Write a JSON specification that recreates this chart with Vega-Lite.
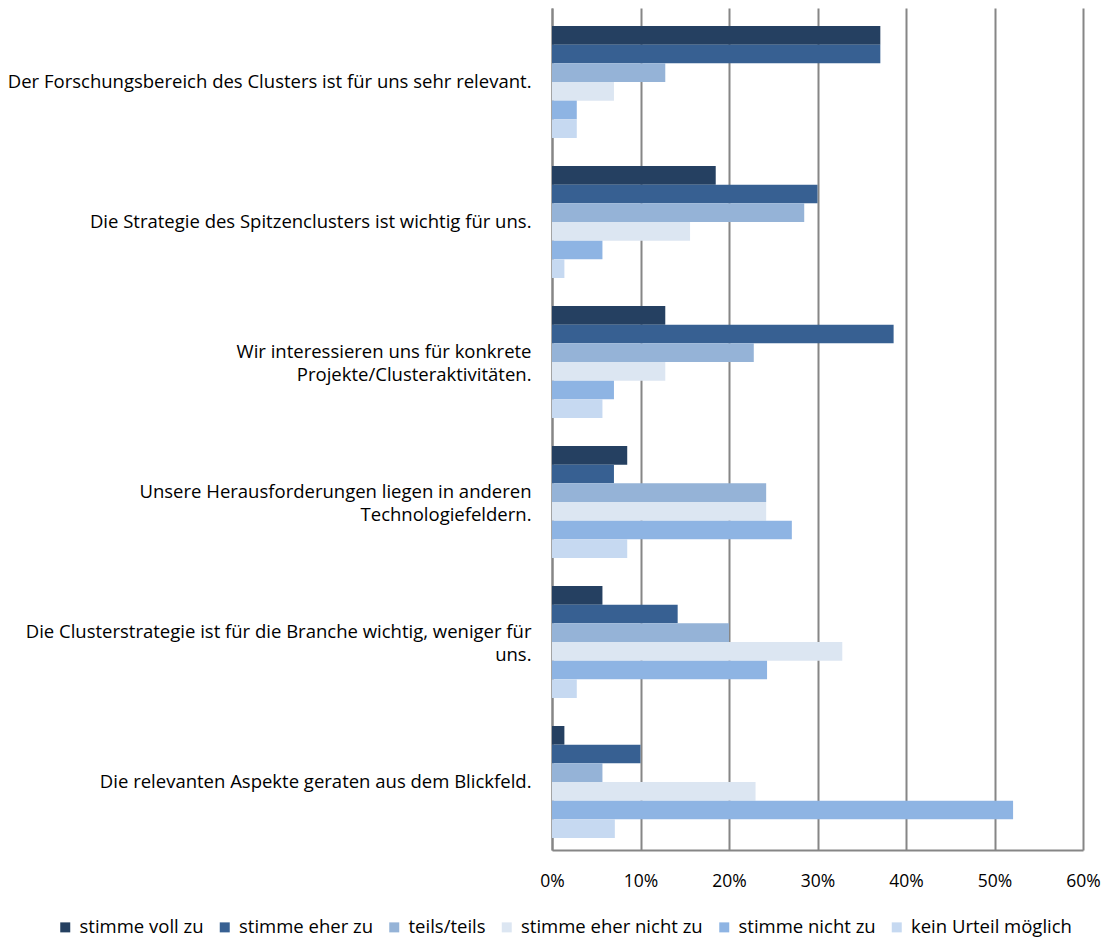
{
  "$schema": "https://vega.github.io/schema/vega-lite/v6.json",
  "width": 531,
  "height": 842,
  "autosize": {"type": "none"},
  "padding": {"left": 552, "top": 8, "right": 25, "bottom": 91},
  "background": "white",
  "data": {
    "values": [
      {"q": "Der Forschungsbereich des Clusters ist für uns sehr relevant.", "r": "stimme voll zu", "v": 0.371},
      {"q": "Der Forschungsbereich des Clusters ist für uns sehr relevant.", "r": "stimme eher zu", "v": 0.371},
      {"q": "Der Forschungsbereich des Clusters ist für uns sehr relevant.", "r": "teils/teils", "v": 0.128},
      {"q": "Der Forschungsbereich des Clusters ist für uns sehr relevant.", "r": "stimme eher nicht zu", "v": 0.070},
      {"q": "Der Forschungsbereich des Clusters ist für uns sehr relevant.", "r": "stimme nicht zu", "v": 0.028},
      {"q": "Der Forschungsbereich des Clusters ist für uns sehr relevant.", "r": "kein Urteil möglich", "v": 0.028},
      {"q": "Die Strategie des Spitzenclusters ist wichtig für uns.", "r": "stimme voll zu", "v": 0.185},
      {"q": "Die Strategie des Spitzenclusters ist wichtig für uns.", "r": "stimme eher zu", "v": 0.300},
      {"q": "Die Strategie des Spitzenclusters ist wichtig für uns.", "r": "teils/teils", "v": 0.285},
      {"q": "Die Strategie des Spitzenclusters ist wichtig für uns.", "r": "stimme eher nicht zu", "v": 0.156},
      {"q": "Die Strategie des Spitzenclusters ist wichtig für uns.", "r": "stimme nicht zu", "v": 0.057},
      {"q": "Die Strategie des Spitzenclusters ist wichtig für uns.", "r": "kein Urteil möglich", "v": 0.014},
      {"q": "Wir interessieren uns für konkrete|Projekte/Clusteraktivitäten.", "r": "stimme voll zu", "v": 0.128},
      {"q": "Wir interessieren uns für konkrete|Projekte/Clusteraktivitäten.", "r": "stimme eher zu", "v": 0.386},
      {"q": "Wir interessieren uns für konkrete|Projekte/Clusteraktivitäten.", "r": "teils/teils", "v": 0.228},
      {"q": "Wir interessieren uns für konkrete|Projekte/Clusteraktivitäten.", "r": "stimme eher nicht zu", "v": 0.128},
      {"q": "Wir interessieren uns für konkrete|Projekte/Clusteraktivitäten.", "r": "stimme nicht zu", "v": 0.070},
      {"q": "Wir interessieren uns für konkrete|Projekte/Clusteraktivitäten.", "r": "kein Urteil möglich", "v": 0.057},
      {"q": "Unsere Herausforderungen liegen in anderen|Technologiefeldern.", "r": "stimme voll zu", "v": 0.085},
      {"q": "Unsere Herausforderungen liegen in anderen|Technologiefeldern.", "r": "stimme eher zu", "v": 0.070},
      {"q": "Unsere Herausforderungen liegen in anderen|Technologiefeldern.", "r": "teils/teils", "v": 0.242},
      {"q": "Unsere Herausforderungen liegen in anderen|Technologiefeldern.", "r": "stimme eher nicht zu", "v": 0.242},
      {"q": "Unsere Herausforderungen liegen in anderen|Technologiefeldern.", "r": "stimme nicht zu", "v": 0.271},
      {"q": "Unsere Herausforderungen liegen in anderen|Technologiefeldern.", "r": "kein Urteil möglich", "v": 0.085},
      {"q": "Die Clusterstrategie ist für die Branche wichtig, weniger für|uns.", "r": "stimme voll zu", "v": 0.057},
      {"q": "Die Clusterstrategie ist für die Branche wichtig, weniger für|uns.", "r": "stimme eher zu", "v": 0.142},
      {"q": "Die Clusterstrategie ist für die Branche wichtig, weniger für|uns.", "r": "teils/teils", "v": 0.200},
      {"q": "Die Clusterstrategie ist für die Branche wichtig, weniger für|uns.", "r": "stimme eher nicht zu", "v": 0.328},
      {"q": "Die Clusterstrategie ist für die Branche wichtig, weniger für|uns.", "r": "stimme nicht zu", "v": 0.243},
      {"q": "Die Clusterstrategie ist für die Branche wichtig, weniger für|uns.", "r": "kein Urteil möglich", "v": 0.028},
      {"q": "Die relevanten Aspekte geraten aus dem Blickfeld.", "r": "stimme voll zu", "v": 0.014},
      {"q": "Die relevanten Aspekte geraten aus dem Blickfeld.", "r": "stimme eher zu", "v": 0.100},
      {"q": "Die relevanten Aspekte geraten aus dem Blickfeld.", "r": "teils/teils", "v": 0.057},
      {"q": "Die relevanten Aspekte geraten aus dem Blickfeld.", "r": "stimme eher nicht zu", "v": 0.230},
      {"q": "Die relevanten Aspekte geraten aus dem Blickfeld.", "r": "stimme nicht zu", "v": 0.521},
      {"q": "Die relevanten Aspekte geraten aus dem Blickfeld.", "r": "kein Urteil möglich", "v": 0.071}
    ]
  },
  "mark": {"type": "bar"},
  "encoding": {
    "y": {
      "field": "q",
      "type": "nominal",
      "sort": null,
      "title": null,
      "scale": {"paddingInner": 0.2, "paddingOuter": 0.107, "align": 0.6},
      "axis": {
        "labelExpr": "split(datum.label, '|')",
        "labelFont": "Open Sans",
        "labelFontSize": 18.5,
        "labelColor": "#000000",
        "labelLimit": 0,
        "labelPadding": 21,
        "labelLineHeight": 23,
        "labelOffset": {"condition": {"test": "indexof(datum.value, '|') >= 0", "value": -10}, "value": 0},
        "ticks": false,
        "domain": true,
        "domainColor": "#868686",
        "domainWidth": 2,
        "grid": false
      }
    },
    "yOffset": {
      "field": "r",
      "type": "nominal",
      "scale": {"domain": ["stimme voll zu", "stimme eher zu", "teils/teils", "stimme eher nicht zu", "stimme nicht zu", "kein Urteil möglich"], "paddingInner": 0, "paddingOuter": 0}
    },
    "x": {
      "field": "v",
      "type": "quantitative",
      "title": null,
      "scale": {"domain": [0, 0.6], "nice": false},
      "axis": {
        "values": [0, 0.1, 0.2, 0.3, 0.4, 0.5, 0.6],
        "format": ".0%",
        "labelFont": "Open Sans",
        "labelFontSize": 17.5,
        "labelColor": "#000000",
        "labelPadding": 22,
        "labelFlush": false,
        "ticks": false,
        "domainColor": "#868686",
        "domainWidth": 2,
        "grid": true,
        "gridColor": "#868686",
        "gridWidth": 2
      }
    },
    "color": {
      "field": "r",
      "type": "nominal",
      "title": null,
      "scale": {
        "domain": ["stimme voll zu", "stimme eher zu", "teils/teils", "stimme eher nicht zu", "stimme nicht zu", "kein Urteil möglich"],
        "range": ["#254061", "#376092", "#95b3d7", "#dce6f2", "#8eb4e3", "#c6d9f1"]
      },
      "legend": {
        "orient": "none",
        "direction": "horizontal",
        "columns": 6,
        "legendX": -496,
        "legendY": 910,
        "symbolType": "square",
        "symbolSize": 100,
        "symbolStrokeWidth": 0,
        "labelFont": "Open Sans",
        "labelFontSize": 18.5,
        "labelColor": "#000000",
        "labelOffset": 5,
        "columnPadding": 11.5,
        "labelLimit": 0
      }
    }
  },
  "config": {
    "view": {"stroke": null},
    "font": "Open Sans"
  }
}
